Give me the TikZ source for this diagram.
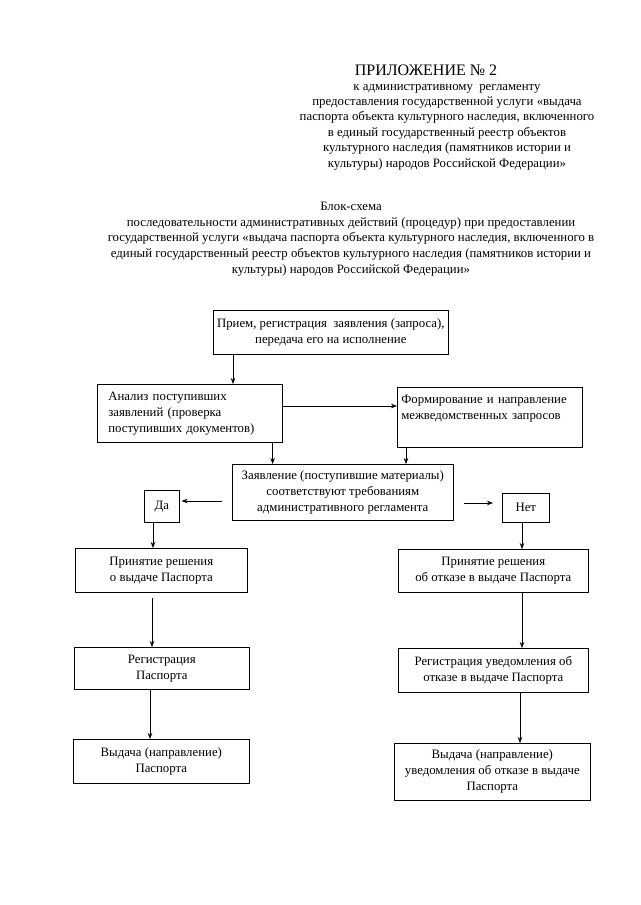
\documentclass[tikz,border=0pt]{standalone}
\usepackage{fontspec}
\setmainfont{Liberation Serif}
\usetikzlibrary{arrows.meta,calc}
\newcommand{\fs}{\fontsize{12.8}{16}\selectfont}
\tikzset{
  box/.style={draw, line width=0.6pt, inner sep=0pt, align=center, font=\fs, anchor=north west},
  arr/.style={-{Stealth[length=6pt,width=4.5pt]}, line width=0.6pt},
  lbl/.style={align=center, inner sep=0pt}
}
\begin{document}
\begin{tikzpicture}[x=1pt,y=-1pt]
\useasboundingbox (0,0) rectangle (640,905);
\fill[white] (0,0) rectangle (640,905);

\node[font=\fontsize{16}{18}\selectfont, inner sep=0pt] (title) at (426,70) {ПРИЛОЖЕНИЕ № 2};
\node[lbl, font=\fontsize{12.8}{15.4}\selectfont] (sub) at (447,127) {к административному\ \ регламенту\\
предоставления государственной услуги «выдача\\
паспорта объекта культурного наследия, включенного\\
в единый государственный реестр объектов\\
культурного наследия (памятников истории и\\
культуры) народов Российской Федерации»};

\node[lbl, font=\fontsize{12.8}{15.8}\selectfont] (head) at (351,239) {Блок-схема\\
последовательности административных действий (процедур) при предоставлении\\
государственной услуги «выдача паспорта объекта культурного наследия, включенного в\\
единый государственный реестр объектов культурного наследия (памятников истории и\\
культуры) народов Российской Федерации»};

\node[box, minimum width=235pt, minimum height=44pt] (A) at (213,310)
  {Прием, регистрация\ \ заявления (запроса),\\ передача его на исполнение};
\node[box, minimum height=58pt, text width=163pt, inner xsep=11pt, align=left] (B) at (97,384)
  {Анализ поступивших\\ заявлений (проверка\\ поступивших документов)};
\node[box, minimum height=60pt, text width=177pt, inner xsep=4pt, align=left] (C) at (397,387)
  {Формирование и направление\\ межведомственных запросов\\ \strut};
\node[box, minimum width=221pt, minimum height=56pt] (D) at (232,464)
  {Заявление (поступившие материалы)\\ соответствуют требованиям\\ административного регламента};
\node[box, minimum width=35pt, minimum height=32pt] (Y) at (144,490) {Да};
\node[box, minimum width=47pt, minimum height=29pt] (N) at (502,493) {Нет};

\node[box, minimum width=172pt, minimum height=44pt] (E) at (75,548)
  {Принятие решения\\ о выдаче Паспорта};
\node[box, minimum width=175pt, minimum height=42pt] (F) at (74,647)
  {Регистрация\\ Паспорта};
\node[box, minimum width=176pt, minimum height=44pt] (G) at (73,739)
  {Выдача (направление)\\ Паспорта};

\node[box, minimum width=190pt, minimum height=43pt] (H) at (398,549)
  {Принятие решения\\ об отказе в выдаче Паспорта};
\node[box, minimum width=190pt, minimum height=44pt] (I) at (398,648)
  {Регистрация уведомления об\\ отказе в выдаче Паспорта};
\node[box, minimum width=196pt, minimum height=57pt] (J) at (394,743)
  {Выдача (направление)\\ уведомления об отказе в выдаче\\ Паспорта};

\draw[arr] ([xshift=20pt]A.south west) -- ([xshift=20pt]A.south west |- B.north);
\draw[arr] ([yshift=-22pt]B.north east) -- ([yshift=-22pt]B.north east -| C.west);
\draw[arr] ([xshift=-10pt]B.south east) -- ([xshift=-10pt]B.south east |- D.north);
\draw[arr] ([xshift=9pt]C.south west) -- ([xshift=9pt]C.south west |- D.north);
\draw[arr, shorten <=10pt, shorten >=2pt] ([yshift=-37pt]D.north west) -- ([yshift=-37pt]D.north west -| Y.east);
\draw[arr, shorten <=10pt, shorten >=9pt] ([yshift=-39pt]D.north east) -- ([yshift=-39pt]D.north east -| N.west);
\draw[arr] ([xshift=9pt]Y.south west) -- ([xshift=9pt]Y.south west |- E.north);
\draw[arr, shorten <=5pt] ([xshift=77pt]E.south west) -- ([xshift=77pt]E.south west |- F.north);
\draw[arr] ([xshift=76pt]F.south west) -- ([xshift=76pt]F.south west |- G.north);
\draw[arr] ([xshift=20pt]N.south west) -- ([xshift=20pt]N.south west |- H.north);
\draw[arr] ([xshift=124pt]H.south west) -- ([xshift=124pt]H.south west |- I.north);
\draw[arr] ([xshift=122pt]I.south west) -- ([xshift=122pt]I.south west |- J.north);
\end{tikzpicture}
\end{document}
